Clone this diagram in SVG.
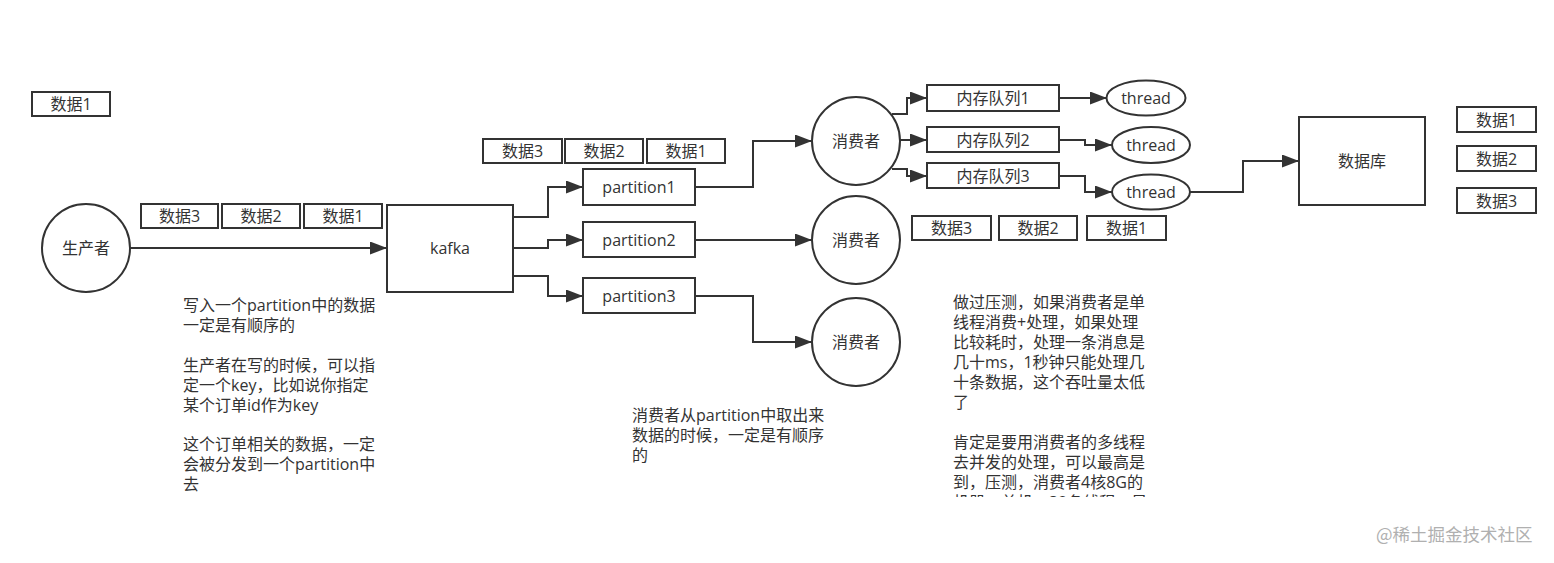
<svg xmlns="http://www.w3.org/2000/svg" width="1554" height="563" viewBox="0 0 1554 563">
<style>
.n{fill:#fff;stroke:#333;stroke-width:2}
.t{font-family:"Open Sans","Noto Sans CJK SC",sans-serif;font-size:16px;fill:#333;text-anchor:middle;dominant-baseline:central}
.p{font-family:"Open Sans","Noto Sans CJK SC",sans-serif;font-size:16px;fill:#333}
.c{fill:none;stroke:#333;stroke-width:2}
.w{font-family:"Noto Sans CJK SC",sans-serif;font-size:17.5px;fill:#b0b0b0}
</style>
<defs>
<marker id="ah" markerWidth="17" markerHeight="13" refX="17" refY="6.5" orient="auto" markerUnits="userSpaceOnUse"><path d="M0,0 L17,6.5 L0,13 Z" fill="#333"/></marker>
<clipPath id="clipR"><rect x="940" y="280" width="240" height="217"/></clipPath>
</defs>
<rect width="1554" height="563" fill="#fff"/>

<g id="connectors">
<path class="c" d="M130,248 H387" marker-end="url(#ah)"/>
<path class="c" d="M513,217 H548 V187 H583" marker-end="url(#ah)"/>
<path class="c" d="M513,248 H548 V240 H583" marker-end="url(#ah)"/>
<path class="c" d="M513,276 H548 V296 H583" marker-end="url(#ah)"/>
<path class="c" d="M695,187 H753 V141 H812" marker-end="url(#ah)"/>
<path class="c" d="M695,240 H812" marker-end="url(#ah)"/>
<path class="c" d="M695,296 H753 V342 H812" marker-end="url(#ah)"/>
<path class="c" d="M892,114 H907 V98 H927" marker-end="url(#ah)"/>
<path class="c" d="M900,140 H927" marker-end="url(#ah)"/>
<path class="c" d="M892,169 H907 V176 H927" marker-end="url(#ah)"/>
<path class="c" d="M1059,98 H1107" marker-end="url(#ah)"/>
<path class="c" d="M1059,140 H1085 V145 H1112" marker-end="url(#ah)"/>
<path class="c" d="M1059,176 H1085 V192 H1112" marker-end="url(#ah)"/>
<path class="c" d="M1190,192 H1243 V161 H1299" marker-end="url(#ah)"/>
</g>

<g id="data-top-left"><rect class="n" x="32" y="92" width="78" height="24"/><text class="t" x="71" y="104">数据1</text></g>

<g id="producer"><circle class="n" cx="86" cy="248" r="44"/><text class="t" x="86" y="248">生产者</text></g>

<g id="prod-data3"><rect class="n" x="141" y="204" width="77" height="24"/><text class="t" x="179.5" y="216">数据3</text></g>
<g id="prod-data2"><rect class="n" x="222" y="204" width="78" height="24"/><text class="t" x="261" y="216">数据2</text></g>
<g id="prod-data1"><rect class="n" x="304" y="204" width="78" height="24"/><text class="t" x="343" y="216">数据1</text></g>

<g id="kafka"><rect class="n" x="387" y="205" width="126" height="87"/><text class="t" x="450" y="248">kafka</text></g>

<g id="part-data3"><rect class="n" x="483" y="139" width="79" height="24"/><text class="t" x="522.5" y="151">数据3</text></g>
<g id="part-data2"><rect class="n" x="565" y="139" width="78" height="24"/><text class="t" x="604" y="151">数据2</text></g>
<g id="part-data1"><rect class="n" x="647" y="139" width="78" height="24"/><text class="t" x="686" y="151">数据1</text></g>

<g id="partition1"><rect class="n" x="583" y="169" width="112" height="36"/><text class="t" x="639" y="187">partition1</text></g>
<g id="partition2"><rect class="n" x="583" y="222" width="112" height="35"/><text class="t" x="639" y="240">partition2</text></g>
<g id="partition3"><rect class="n" x="583" y="278" width="112" height="35"/><text class="t" x="639" y="296">partition3</text></g>

<g id="consumer1"><circle class="n" cx="856" cy="141" r="44"/><text class="t" x="856" y="141">消费者</text></g>
<g id="consumer2"><circle class="n" cx="856" cy="240" r="44"/><text class="t" x="856" y="240">消费者</text></g>
<g id="consumer3"><circle class="n" cx="856" cy="342" r="44"/><text class="t" x="856" y="342">消费者</text></g>

<g id="queue1"><rect class="n" x="927" y="85" width="132" height="26"/><text class="t" x="993" y="98">内存队列1</text></g>
<g id="queue2"><rect class="n" x="927" y="127" width="132" height="25"/><text class="t" x="993" y="140">内存队列2</text></g>
<g id="queue3"><rect class="n" x="927" y="163" width="132" height="25"/><text class="t" x="993" y="176">内存队列3</text></g>

<g id="thread1"><ellipse class="n" cx="1146" cy="98" rx="39.5" ry="17.5"/><text class="t" x="1146" y="98">thread</text></g>
<g id="thread2"><ellipse class="n" cx="1151" cy="145" rx="39" ry="18"/><text class="t" x="1151" y="145">thread</text></g>
<g id="thread3"><ellipse class="n" cx="1151" cy="192" rx="39" ry="17.5"/><text class="t" x="1151" y="192">thread</text></g>

<g id="cons-data3"><rect class="n" x="912" y="216" width="79" height="24"/><text class="t" x="951.5" y="228">数据3</text></g>
<g id="cons-data2"><rect class="n" x="999" y="216" width="78" height="24"/><text class="t" x="1038" y="228">数据2</text></g>
<g id="cons-data1"><rect class="n" x="1087" y="216" width="79" height="24"/><text class="t" x="1126.5" y="228">数据1</text></g>

<g id="database"><rect class="n" x="1299" y="117" width="126" height="88"/><text class="t" x="1362" y="161">数据库</text></g>

<g id="db-data1"><rect class="n" x="1457" y="107" width="79" height="25"/><text class="t" x="1496.5" y="119.5">数据1</text></g>
<g id="db-data2"><rect class="n" x="1457" y="146" width="79" height="25"/><text class="t" x="1496.5" y="158.5">数据2</text></g>
<g id="db-data3"><rect class="n" x="1457" y="188" width="79" height="25"/><text class="t" x="1496.5" y="200.5">数据3</text></g>

<g id="note-left" class="p">
<text x="183" y="311">写入一个partition中的数据</text>
<text x="183" y="331">一定是有顺序的</text>
<text x="183" y="371">生产者在写的时候，可以指</text>
<text x="183" y="391">定一个key，比如说你指定</text>
<text x="183" y="411">某个订单id作为key</text>
<text x="183" y="450">这个订单相关的数据，一定</text>
<text x="183" y="470">会被分发到一个partition中</text>
<text x="183" y="490">去</text>
</g>

<g id="note-middle" class="p">
<text x="632" y="421">消费者从partition中取出来</text>
<text x="632" y="441">数据的时候，一定是有顺序</text>
<text x="632" y="461">的</text>
</g>

<g id="note-right" class="p" clip-path="url(#clipR)">
<text x="953" y="308">做过压测，如果消费者是单</text>
<text x="953" y="328">线程消费+处理，如果处理</text>
<text x="953" y="348">比较耗时，处理一条消息是</text>
<text x="953" y="368">几十ms，1秒钟只能处理几</text>
<text x="953" y="388">十条数据，这个吞吐量太低</text>
<text x="953" y="408">了</text>
<text x="953" y="448">肯定是要用消费者的多线程</text>
<text x="953" y="468">去并发的处理，可以最高是</text>
<text x="953" y="488">到，压测，消费者4核8G的</text>
<text x="953" y="508">机器，单机，32条线程，是</text>
</g>

<text class="w" x="1376" y="541">@稀土掘金技术社区</text>
</svg>
